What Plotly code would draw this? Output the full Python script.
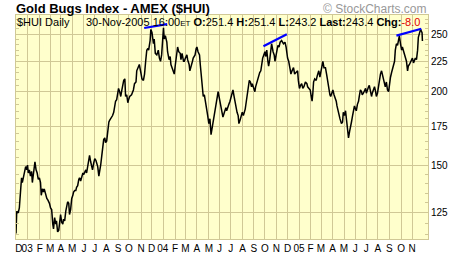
import pandas as pd
import plotly.graph_objects as go

# ---------------- data ----------------
START = "2002-12-01"          # day 0 of the day-offset lists below

# Dec 2002 - Sep 2003
day_a = [0, 2, 6, 9, 13, 15, 17, 20, 22, 26,
         29, 31, 33, 36, 39, 42, 44, 47, 49, 51,
         54, 57, 60, 63, 66, 68, 71, 74, 76, 79,
         83, 86, 90, 93, 96, 99, 101, 104, 107, 109,
         112, 115, 118, 120, 123, 126, 128, 131, 134, 136,
         139, 142, 144, 147, 150, 153, 155, 158, 161, 163,
         166, 169, 171, 174, 177, 180, 182, 185, 188, 190,
         193, 196, 198, 201, 204, 206, 209, 212, 215, 217,
         220, 223, 225, 228, 231, 233, 236, 239, 241, 244,
         247, 250, 252, 255, 258, 260, 263, 266, 268, 271,
         274, 276, 279, 282, 285, 287, 290, 293, 295, 298,
         301, 303, 306]
hui_a = [115.4, 125.8, 125.0, 127.4, 138.0, 143.2, 140.6, 144.1, 145.9, 149.6,
         147.7, 150.5, 145.9, 147.7, 144.1, 146.8, 140.6, 145.9, 148.6, 152.4,
         147.7, 145.9, 142.3, 143.2, 140.6, 133.8, 137.2, 135.5, 137.2, 134.6,
         132.2, 131.3, 129.7, 127.4, 126.6, 119.7, 117.5, 122.7, 119.7, 121.2,
         116.1, 116.8, 121.2, 124.2, 120.5, 119.7, 122.0, 121.2, 125.8, 128.2,
         130.5, 129.7, 124.2, 126.6, 132.2, 133.8, 135.5, 136.3, 136.3, 138.0,
         138.9, 142.3, 143.2, 141.4, 144.1, 145.9, 145.0, 146.8, 147.7, 145.9,
         149.6, 155.2, 156.2, 152.4, 148.6, 147.7, 151.4, 154.3, 153.3, 151.4,
         149.6, 144.1, 145.9, 150.5, 156.2, 162.1, 166.1, 167.2, 164.1, 165.1,
         173.5, 177.8, 178.9, 180.1, 181.2, 182.3, 184.6, 190.4, 192.7, 193.9,
         197.6, 202.5, 200.0, 196.3, 201.3, 205.0, 208.9, 210.2, 196.3, 197.6,
         191.6, 193.9, 196.3]

# Oct 2003 - Nov 2004
day_b = [311, 316, 319, 323, 325, 329, 332, 336, 339, 343,
         346, 349, 352, 355, 357, 361, 363, 366, 370, 372,
         375, 379, 383, 386, 389, 392, 395, 397, 399, 402,
         406, 408, 412, 415, 417, 421, 424, 426, 429, 433,
         435, 438, 442, 444, 447, 451, 453, 456, 460, 462,
         466, 468, 471, 475, 477, 482, 485, 487, 490, 494,
         496, 499, 502, 504, 507, 511, 513, 516, 519, 522,
         525, 528, 531, 534, 537, 539, 542, 544, 547, 549,
         552, 555, 557, 561, 565, 567, 570, 573, 576, 579,
         582, 584, 587, 590, 592, 595, 598, 600, 603, 606,
         609, 612, 615, 617, 620, 623, 626, 628, 631, 634,
         636, 639, 643, 645, 648, 651, 653, 656, 659, 661,
         664, 667, 670, 672, 675, 678, 680, 683, 686, 688,
         692, 695, 697, 700, 703, 705, 708]
hui_b = [197.6, 201.3, 206.3, 207.6, 216.8, 219.5, 222.2, 215.4, 210.2, 208.9,
         214.1, 225.0, 234.9, 236.4, 234.9, 243.8, 254.6, 251.5, 240.8, 245.3,
         232.0, 230.6, 234.9, 227.8, 225.0, 230.6, 246.8, 256.2, 245.3, 248.4,
         242.3, 233.5, 226.4, 229.2, 222.2, 218.1, 215.4, 214.1, 222.2, 233.5,
         237.8, 233.5, 232.0, 226.4, 232.0, 225.0, 225.0, 227.8, 230.6, 226.4,
         222.2, 216.8, 219.5, 225.0, 227.8, 230.6, 236.4, 237.8, 233.5, 230.6,
         222.2, 211.5, 207.6, 196.3, 197.6, 191.6, 188.0, 182.3, 176.7, 180.1,
         169.3, 173.5, 177.8, 182.3, 185.7, 190.4, 196.3, 200.0, 195.1, 193.9,
         188.0, 182.3, 181.2, 184.6, 188.0, 185.7, 189.2, 190.4, 192.7, 196.3,
         198.8, 201.3, 196.3, 191.6, 188.0, 184.6, 182.3, 176.7, 178.9, 182.3,
         184.6, 182.3, 184.6, 186.9, 192.7, 197.6, 205.0, 208.9, 207.6, 203.8,
         206.3, 202.5, 200.0, 203.8, 207.6, 210.2, 212.8, 215.4, 216.8, 222.2,
         227.8, 230.6, 233.5, 229.2, 234.9, 225.0, 220.8, 226.4, 237.8, 240.8,
         233.5, 230.6, 225.0, 232.0, 236.4, 239.3, 237.8]

# Dec 2004 - Nov 2005
day_c = [711, 715, 720, 724, 727, 731, 734, 738, 740, 743,
         747, 750, 754, 758, 760, 763, 766, 769, 772, 775,
         779, 783, 785, 788, 792, 794, 797, 799, 801, 804,
         808, 811, 815, 818, 820, 823, 826, 829, 833, 836,
         839, 842, 845, 847, 850, 853, 856, 859, 862, 864,
         867, 870, 872, 876, 879, 881, 884, 887, 889, 892,
         895, 898, 900, 903, 906, 908, 911, 914, 916, 919,
         922, 924, 927, 930, 932, 935, 938, 941, 943, 946,
         949, 951, 954, 957, 959, 962, 965, 968, 970, 973,
         976, 978, 981, 984, 986, 989, 992, 994, 997, 1000,
         1003, 1005, 1008, 1011, 1013, 1016, 1019, 1021, 1024, 1027,
         1029, 1032, 1035, 1038, 1040, 1043, 1046, 1048, 1051, 1054,
         1056, 1059, 1062, 1064, 1067, 1070, 1073, 1075, 1078, 1081,
         1083, 1086, 1089, 1091, 1093, 1094]
hui_c = [242.3, 243.8, 240.8, 242.3, 237.8, 227.8, 225.0, 218.1, 214.1, 216.8,
         219.5, 214.1, 215.4, 216.8, 208.9, 202.5, 205.0, 206.3, 202.5, 203.8,
         207.6, 206.3, 203.8, 202.5, 201.3, 197.6, 192.7, 198.8, 207.6, 210.2,
         208.9, 212.8, 216.8, 211.5, 215.4, 222.2, 225.0, 219.5, 219.5, 214.1,
         207.6, 203.8, 197.6, 196.3, 200.0, 201.3, 197.6, 195.1, 192.7, 189.2,
         184.6, 182.3, 180.1, 176.7, 177.8, 184.6, 182.3, 185.7, 181.2, 173.5,
         167.2, 171.4, 175.7, 177.8, 182.3, 184.6, 189.2, 186.9, 185.7, 190.4,
         192.7, 196.3, 201.3, 200.0, 197.6, 198.8, 201.3, 202.5, 198.8, 202.5,
         203.8, 205.0, 200.0, 196.3, 198.8, 202.5, 203.8, 200.0, 196.3, 198.8,
         203.8, 210.2, 214.1, 216.8, 212.8, 210.2, 206.3, 203.8, 207.6, 201.3,
         200.0, 206.3, 211.5, 215.4, 218.1, 220.8, 225.0, 234.9, 240.8, 239.3,
         242.3, 248.4, 240.8, 234.9, 237.8, 233.5, 232.0, 227.8, 225.0, 216.8,
         220.8, 222.2, 225.0, 225.0, 227.8, 223.6, 226.4, 227.8, 226.4, 234.9,
         246.8, 251.5, 254.6, 253.0, 251.4, 243.4]

assert len(day_a) == len(hui_a) and len(day_b) == len(hui_b) and len(day_c) == len(hui_c)

# first trading day of each month (vertical grid) and the month labels
month_starts = ["2002-12-02", "2003-01-02", "2003-02-03", "2003-03-03", "2003-04-01",
                "2003-05-01", "2003-06-02", "2003-07-01", "2003-08-01", "2003-09-02",
                "2003-10-01", "2003-11-03", "2003-12-01", "2004-01-02", "2004-02-02",
                "2004-03-01", "2004-04-01", "2004-05-03", "2004-06-01", "2004-07-01",
                "2004-08-02", "2004-09-01", "2004-10-01", "2004-11-01", "2004-12-01",
                "2005-01-03", "2005-02-01", "2005-03-01", "2005-04-01", "2005-05-02",
                "2005-06-01", "2005-07-01", "2005-08-01", "2005-09-01", "2005-10-03",
                "2005-11-01"]
month_labels = ["D", "03", "F", "M", "A", "M", "J", "J", "A", "S", "O", "N",
                "D", "04", "F", "M", "A", "M", "J", "J", "A", "S", "O", "N",
                "D", "05", "F", "M", "A", "M", "J", "J", "A", "S", "O", "N"]

y_ticks = [125, 150, 175, 200, 225, 250]

# hand-drawn blue trend lines (start/end)
trend_dates = [["2003-11-11", "2004-01-12"],
               ["2004-09-27", "2004-11-29"],
               ["2005-09-20", "2005-11-26"]]
trend_vals = [[256.0, 259.8],
              [238.4, 249.9],
              [248.5, 255.2]]

# ---------------- figure ----------------
W, H = 460, 266
ML, MR, MT, MB = 16, 32, 15, 17
PW, PH = W - ML - MR, H - MT - MB

BG = "#FFFFCC"
GRID = "#D0C896"
FONT = "Arial, 'Liberation Sans', sans-serif"

x0 = pd.Timestamp(START)
x1 = pd.Timestamp("2005-12-14")

def px_x(px):
    return (px - ML) / PW

def px_y(py):
    return 1 - (py - MT) / PH

dates = x0 + pd.to_timedelta(day_a + day_b + day_c, unit="D")
hui = hui_a + hui_b + hui_c

# label positions: letters centred on the month grid line, first label kept inside
lab_pos = []
for d, lab in zip(month_starts, month_labels):
    t = pd.Timestamp(d)
    if len(lab) == 2:
        t = t - pd.Timedelta(days=2)
    t = max(t, x0 + pd.Timedelta(days=8))
    lab_pos.append(t)

y_minor = [v for v in range(115, 270, 5) if v not in y_ticks]

fig = go.Figure()
fig.add_trace(go.Scatter(x=dates, y=hui, mode="lines",
                         line=dict(color="black", width=1.5),
                         hoverinfo="skip", showlegend=False))
for td, tv in zip(trend_dates, trend_vals):
    fig.add_trace(go.Scatter(x=td, y=tv, mode="lines",
                             line=dict(color="#0000FF", width=2.2),
                             hoverinfo="skip", showlegend=False))

fig.update_layout(
    width=W, height=H,
    margin=dict(l=ML, r=MR, t=MT, b=MB, pad=0),
    paper_bgcolor="white", plot_bgcolor=BG,
    font=dict(family=FONT, size=10, color="black"),
    showlegend=False,
    xaxis=dict(
        type="date", range=[x0, x1],
        tickmode="array", tickvals=lab_pos, ticktext=month_labels,
        tickangle=0, ticks="", showgrid=False, zeroline=False,
        showline=True, linecolor=GRID, linewidth=1, mirror=True,
        tickfont=dict(family=FONT, size=10, color="black"),
        minor=dict(tickmode="array", tickvals=month_starts, showgrid=True,
                   gridcolor=GRID, gridwidth=1, ticks=""),
    ),
    yaxis=dict(
        type="log", side="right",
        range=[2.05293, 2.43008],
        tickmode="array", tickvals=y_ticks, ticktext=[str(v) for v in y_ticks],
        ticks="", showgrid=True, gridcolor=GRID, gridwidth=1, zeroline=False,
        showline=True, linecolor=GRID, linewidth=1, mirror="ticks",
        tickfont=dict(family=FONT, size=10, color="black"),
        minor=dict(tickmode="array", tickvals=y_minor, ticks="inside",
                   ticklen=3, tickcolor=GRID, tickwidth=1, showgrid=False),
    ),
)

# boxes behind the header texts (hide the grid, stay under the price line)
fig.add_shape(type="rect", xref="paper", yref="paper",
              x0=0, x1=px_x(70), y0=px_y(27), y1=1,
              fillcolor=BG, line=dict(width=0), layer="between")
fig.add_shape(type="rect", xref="paper", yref="paper",
              x0=px_x(81), x1=1, y0=px_y(27), y1=1,
              fillcolor=BG, line=dict(width=0), layer="between")

fig.add_annotation(xref="paper", yref="paper", x=px_x(15), y=px_y(8.5),
                   xanchor="left", yanchor="middle", showarrow=False,
                   text="<b>Gold Bugs Index - AMEX ($HUI)</b>", borderpad=0,
                   font=dict(family=FONT, size=13, color="black"))
fig.add_annotation(xref="paper", yref="paper", x=px_x(428), y=px_y(8.5),
                   xanchor="right", yanchor="middle", showarrow=False,
                   text="© StockCharts.com", borderpad=0,
                   font=dict(family=FONT, size=12, color="#999999"))
fig.add_annotation(xref="paper", yref="paper", x=px_x(16), y=px_y(22),
                   xanchor="left", yanchor="middle", showarrow=False,
                   text="$HUI Daily", borderpad=0,
                   font=dict(family=FONT, size=11, color="black"))
header = ("30-Nov-2005 16:00<span style='font-size:8px'>ET</span> "
          "<b>O:</b>251.4 <b>H:</b>251.4 <b>L:</b>243.2 "
          "<b>Last:</b>243.4 <b>Chg:</b><span style='color:#E00000'>-8.0</span>")
fig.add_annotation(xref="paper", yref="paper", x=px_x(85), y=px_y(22),
                   xanchor="left", yanchor="middle", showarrow=False,
                   text=header, borderpad=0,
                   font=dict(family=FONT, size=11, color="black"))

fig.write_html("out.html")
